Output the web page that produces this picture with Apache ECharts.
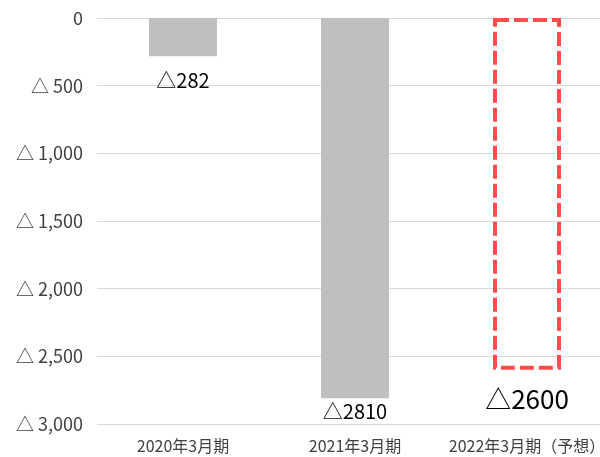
<!DOCTYPE html>
<html>
<head>
<meta charset="utf-8">
<script src="https://cdn.jsdelivr.net/npm/echarts@6/dist/echarts.min.js"></script>
<style>
  html, body { margin: 0; padding: 0; background: #fff; }
  #chart { width: 600px; height: 457px; }
</style>
</head>
<body>
<div id="chart"></div>
<script>
const categories = ['2020年3月期', '2021年3月期', '2022年3月期（予想）'];
const lossValues = [282, 2810, 2600];
const yTicks = [0, 500, 1000, 1500, 2000, 2500, 3000];

const font = '"Noto Sans CJK JP", "Noto Sans", sans-serif';
const chart = echarts.init(document.getElementById('chart'));

// label gap under each bar end (px), last bar is the forecast
const labelGap = [14, 3, 16];

const seriesData = lossValues.map((v, i) => {
  if (i === 2) {
    return {
      value: v,
      itemStyle: {
        color: 'rgba(0,0,0,0)',
        borderColor: '#ff4b4b',
        borderWidth: 4,
        borderType: [14, 5],
      },
      label: { fontSize: 26, distance: labelGap[i] },
    };
  }
  return { value: v, itemStyle: { color: '#bfbfbf' }, label: { distance: labelGap[i] } };
});

chart.setOption({
  animation: false,
  // plot area runs a bit past the right edge of the picture
  grid: { left: 97, width: 516, top: 18, bottom: 33, outerBoundsMode: 'none' },
  xAxis: {
    type: 'category',
    data: categories,
    axisLine: { show: false },
    axisTick: { show: false },
    axisLabel: { color: '#404040', fontSize: 16, fontFamily: font, margin: 14, interval: 0 },
  },
  yAxis: {
    type: 'value',
    inverse: true,
    min: yTicks[0],
    max: yTicks[yTicks.length - 1],
    interval: 500,
    axisLine: { show: false },
    axisTick: { show: false },
    splitLine: { lineStyle: { color: '#d9d9d9', width: 1 } },
    axisLabel: {
      color: '#404040',
      fontSize: 18,
      fontFamily: font,
      margin: 14,
      formatter: (v) => (v === 0 ? '0' : '△ ' + v.toLocaleString('en-US')),
    },
  },
  series: [
    {
      type: 'bar',
      data: seriesData,
      barWidth: 68,
      label: {
        show: true,
        position: 'bottom',
        color: '#000',
        fontSize: 20,
        fontFamily: font,
        formatter: (p) => '△' + p.value,
      },
    },
  ],
});
</script>
</body>
</html>
